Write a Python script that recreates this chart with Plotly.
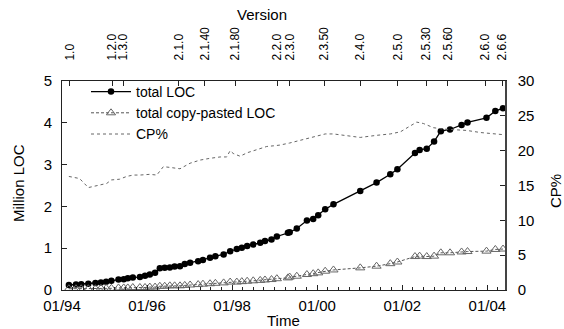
import plotly.graph_objects as go

# ---- data ----
loc_dates = ["1994-03-01","1994-05-01","1994-06-15","1994-08-15","1994-10-15","1994-12-01",
             "1995-01-15","1995-03-01","1995-05-01","1995-06-15","1995-07-20","1995-09-01",
             "1995-11-01","1995-12-15","1996-01-25","1996-03-10","1996-04-20","1996-06-01",
             "1996-07-15","1996-08-25","1996-10-10","1996-11-20","1997-01-05","1997-03-15",
             "1997-04-25","1997-06-25","1997-08-10","1997-10-20","1997-12-15","1998-02-10",
             "1998-03-25","1998-05-10","1998-07-01","1998-08-30","1998-10-10","1998-12-05",
             "1999-01-20","1999-04-25","1999-05-10","1999-07-10","1999-10-05","1999-11-28",
             "2000-01-10","2000-03-10","2000-05-20","2001-01-05","2001-05-25","2001-09-20",
             "2001-11-20","2002-04-20","2002-05-30","2002-07-30","2002-10-01","2002-11-28",
             "2003-02-15","2003-05-25","2003-07-15","2003-12-25","2004-03-10","2004-05-15"]
total_loc = [0.12,0.13,0.14,0.15,0.17,0.18,
             0.20,0.22,0.25,0.26,0.28,0.30,
             0.31,0.34,0.37,0.41,0.52,0.53,
             0.54,0.56,0.57,0.62,0.65,0.69,
             0.72,0.77,0.81,0.85,0.93,0.98,
             1.01,1.05,1.09,1.13,1.17,1.21,
             1.28,1.37,1.38,1.47,1.66,1.70,
             1.79,1.93,2.05,2.37,2.57,2.77,
             2.89,3.28,3.35,3.38,3.55,3.80,
             3.84,3.95,4.01,4.12,4.28,4.35]
copy_loc = [0.03,0.03,0.03,0.03,0.03,0.04,
            0.04,0.04,0.05,0.05,0.05,0.06,
            0.06,0.06,0.07,0.07,0.09,0.09,
            0.10,0.10,0.10,0.11,0.12,0.13,
            0.14,0.15,0.16,0.17,0.19,0.19,
            0.20,0.21,0.22,0.23,0.24,0.25,
            0.27,0.29,0.31,0.33,0.37,0.39,
            0.41,0.45,0.48,0.53,0.57,0.63,
            0.67,0.80,0.81,0.80,0.81,0.89,
            0.89,0.91,0.92,0.93,0.97,0.98]

cp_dates = ["1994-03-01","1994-06-01","1994-08-15","1994-11-05","1995-01-20","1995-03-01",
            "1995-05-10","1995-07-10","1995-09-05","1995-11-01","1996-01-25","1996-03-25",
            "1996-05-20","1996-07-15","1996-10-10","1997-01-05","1997-04-01","1997-06-25",
            "1997-09-20","1997-11-15","1997-12-15","1998-01-10","1998-03-10","1998-05-10",
            "1998-08-01","1998-10-25","1998-12-25","1999-02-15","1999-05-10","1999-11-28",
            "2000-03-10","2000-05-20","2000-09-15","2001-01-05","2001-05-25","2001-09-20",
            "2001-12-15","2002-02-25","2002-05-05","2002-07-01","2002-09-25","2002-12-20",
            "2003-03-15","2003-07-10","2003-11-05","2004-02-25","2004-05-15"]
cp_pct = [16.3,16.0,14.7,15.0,15.3,15.8,
          15.9,16.3,16.5,16.5,16.6,16.5,
          17.7,17.6,17.4,18.2,18.65,18.9,
          19.1,19.1,20.0,19.6,19.2,19.7,
          20.2,20.6,20.7,20.8,21.1,22.0,
          22.4,22.4,22.1,21.9,22.2,22.4,
          22.7,23.4,24.1,23.9,23.3,23.1,
          23.0,22.9,22.6,22.4,22.3]

version_dates = ["1994-03-10","1995-03-07","1995-06-12","1996-09-30","1997-05-12","1998-01-26",
                 "1999-01-26","1999-05-11","2000-03-01","2001-01-04","2001-11-23","2002-07-25",
                 "2003-01-28","2003-12-17","2004-05-10"]
version_labels = ["1.0","1.2.0","1.3.0","2.1.0","2.1.40","2.1.80",
                  "2.2.0","2.3.0","2.3.50","2.4.0","2.5.0","2.5.30",
                  "2.5.60","2.6.0","2.6.6"]

x_range = ["1994-01-01", "2004-06-01"]

FONT = "Liberation Sans, Arial, Helvetica, sans-serif"
AX = "#222"

fig = go.Figure()
fig.add_trace(go.Scatter(
    x=loc_dates, y=total_loc, name="total LOC", mode="lines+markers",
    line=dict(color="black", width=1.3),
    marker=dict(symbol="circle", size=6.5, color="black"),
    xaxis="x", yaxis="y"))
fig.add_trace(go.Scatter(
    x=loc_dates, y=copy_loc, name="total copy-pasted LOC", mode="lines+markers",
    line=dict(color="#555", width=1, dash="3px,2px"),
    marker=dict(symbol="triangle-up-open", size=8, color="#666", line=dict(width=1)),
    xaxis="x", yaxis="y"))
fig.add_trace(go.Scatter(
    x=cp_dates, y=cp_pct, name="CP%", mode="lines",
    line=dict(color="#666", width=1, dash="dot"),
    xaxis="x2", yaxis="y2"))

fig.update_layout(
    width=564, height=329,
    margin=dict(l=62, r=59, t=81, b=39),
    paper_bgcolor="white", plot_bgcolor="white",
    font=dict(family=FONT, size=15, color="black"),
    showlegend=True,
    legend=dict(x=(86 - 62) / 443, y=(290 - 76) / 209, xanchor="left", yanchor="top",
                bgcolor="rgba(0,0,0,0)", borderwidth=0,
                font=dict(size=14), tracegroupgap=0, itemwidth=40),
    xaxis=dict(type="date", range=x_range, tick0="1994-01-01", dtick="M24",
               tickformat="%m/%y", ticks="inside", ticklen=5, tickcolor=AX,
               showline=True, linecolor=AX, linewidth=1, showgrid=False, zeroline=False,
               ticklabelstandoff=2,
               minor=dict(dtick="M3", ticks="inside", ticklen=3, tickcolor=AX, showgrid=False)),
    xaxis2=dict(type="date", range=x_range, overlaying="x", side="top", anchor="y2",
                tickmode="array", tickvals=version_dates, ticktext=version_labels,
                tickangle=-90, ticks="inside", ticklen=5, tickcolor=AX,
                tickfont=dict(size=12), ticklabelstandoff=17,
                showline=True, linecolor=AX, linewidth=1, showgrid=False, zeroline=False),
    yaxis=dict(range=[0, 5], dtick=1, ticks="inside", ticklen=5, tickcolor=AX,
               showline=True, linecolor=AX, linewidth=1, showgrid=False, zeroline=False,
               ticklabelstandoff=6),
    yaxis2=dict(range=[0, 30], dtick=5, overlaying="y", side="right", anchor="x",
                ticks="inside", ticklen=5, tickcolor=AX,
                showline=True, linecolor="#444", linewidth=1.5, showgrid=False, zeroline=False,
                ticklabelstandoff=8),
)

annos = [
    dict(text="Version", x=(262 - 62) / 443, y=(290 - 14) / 209, font=dict(size=15)),
    dict(text="Time", x=0.5, y=(290 - 320) / 209, font=dict(size=15)),
    dict(text="Million LOC", x=(18 - 62) / 443, y=(290 - 183) / 209, textangle=-90, font=dict(size=15)),
    dict(text="CP%", x=(555 - 62) / 443, y=(290 - 191) / 209, textangle=-90, font=dict(size=15)),
]
for a in annos:
    fig.add_annotation(xref="paper", yref="paper", showarrow=False,
                       xanchor="center", yanchor="middle", **a)

fig.write_html("out.html")
